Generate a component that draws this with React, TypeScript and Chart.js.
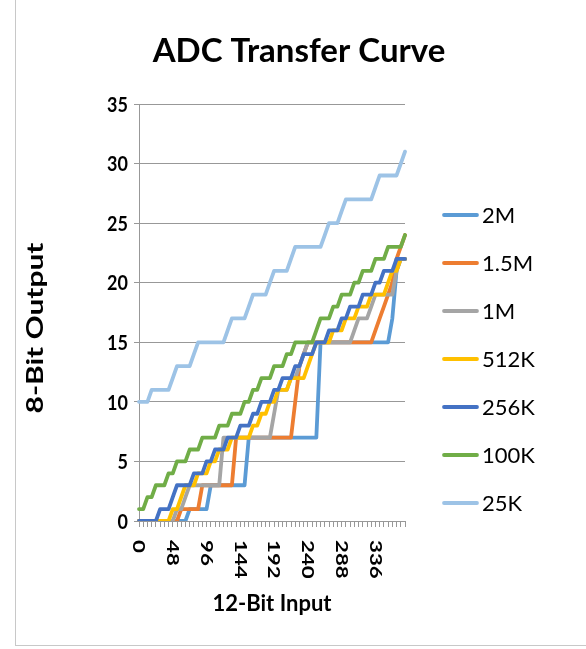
import React, { useEffect, useRef } from 'react';
import { Chart, registerables } from 'chart.js';

Chart.register(...registerables);

// 12-bit input codes sampled along the x axis
const inputCodes = [
  0, 6, 12, 18, 24, 30, 36, 42, 48, 54, 60, 66, 72, 78, 84, 90,
  96, 102, 108, 114, 120, 126, 132, 138, 144, 150, 156, 162, 168, 174, 180, 186,
  192, 198, 204, 210, 216, 222, 228, 234, 240, 246, 252, 258, 264, 270, 276, 282,
  288, 294, 300, 306, 312, 318, 324, 330, 336, 342, 348, 354, 360, 366, 372, 378,
];

// input codes that carry a tick label
const xTickLabels = ['0', '48', '96', '144', '192', '240', '288', '336'];
// output codes marked on the value axis
const yTickValues = [0, 5, 10, 15, 20, 25, 30, 35];

// 8-bit output per sample rate
const out2M = [
  0, 0, 0, 0, 0, 0, 0, 0, 0, 0, 0, 0, 1, 1, 1, 1,
  1, 3, 3, 3, 3, 3, 3, 3, 3, 3, 7, 7, 7, 7, 7, 7,
  7, 7, 7, 7, 7, 7, 7, 7, 7, 7, 7, 15, 15, 15, 15, 15,
  15, 15, 15, 15, 15, 15, 15, 15, 15, 15, 15, 15, 17, 21, 22, 22,
];
const out1_5M = [
  0, 0, 0, 0, 0, 0, 0, 0, 0, 0, 1, 1, 1, 1, 1, 3,
  3, 3, 3, 3, 3, 3, 3, 7, 7, 7, 7, 7, 7, 7, 7, 7,
  7, 7, 7, 7, 7, 10, 13, 14, 15, 15, 15, 15, 15, 15, 15, 15,
  15, 15, 15, 15, 15, 15, 15, 15, 16, 17, 18, 19, 20, 22, 23, 24,
];
const out1M = [
  0, 0, 0, 0, 0, 0, 0, 0, 0, 1, 1, 2, 3, 3, 3, 3,
  3, 3, 3, 3, 7, 7, 7, 7, 7, 7, 7, 7, 7, 7, 7, 7,
  9, 11, 11, 11, 12, 12, 13, 14, 15, 15, 15, 15, 15, 15, 15, 15,
  15, 15, 15, 16, 17, 17, 17, 18, 19, 19, 19, 19, 19, 21, 22, 22,
];
const out512K = [
  0, 0, 0, 0, 0, 0, 0, 0, 1, 1, 2, 3, 3, 3, 4, 4,
  4, 5, 5, 6, 6, 6, 7, 7, 7, 7, 7, 8, 8, 9, 9, 10,
  10, 11, 11, 11, 12, 12, 12, 12, 13, 14, 15, 15, 15, 15, 16, 16,
  16, 17, 17, 17, 18, 18, 18, 19, 19, 19, 19, 20, 21, 21, 22, 22,
];
const out256K = [
  0, 0, 0, 0, 0, 1, 1, 1, 2, 3, 3, 3, 3, 4, 4, 4,
  5, 5, 6, 6, 6, 7, 7, 7, 8, 8, 8, 9, 9, 10, 10, 10,
  11, 11, 12, 12, 12, 13, 13, 14, 14, 14, 15, 15, 15, 16, 16, 16,
  17, 17, 18, 18, 18, 19, 19, 19, 20, 20, 21, 21, 21, 22, 22, 22,
];
const out100K = [
  1, 1, 2, 2, 3, 3, 3, 4, 4, 5, 5, 5, 6, 6, 6, 7,
  7, 7, 7, 8, 8, 8, 9, 9, 9, 10, 10, 11, 11, 12, 12, 12,
  13, 13, 13, 14, 14, 15, 15, 15, 15, 15, 16, 17, 17, 17, 18, 18,
  19, 19, 19, 20, 20, 21, 21, 21, 22, 22, 22, 23, 23, 23, 23, 24,
];
const out25K = [
  10, 10, 10, 11, 11, 11, 11, 11, 12, 13, 13, 13, 13, 14, 15, 15,
  15, 15, 15, 15, 15, 16, 17, 17, 17, 17, 18, 19, 19, 19, 19, 20,
  21, 21, 21, 21, 22, 23, 23, 23, 23, 23, 23, 23, 24, 25, 25, 25,
  26, 27, 27, 27, 27, 27, 27, 27, 28, 29, 29, 29, 29, 29, 30, 31,
];

const seriesNames = ['2M', '1.5M', '1M', '512K', '256K', '100K', '25K'];
const seriesValues = [out2M, out1_5M, out1M, out512K, out256K, out100K, out25K];
const seriesColors = ['#5B9BD5', '#ED7D31', '#A5A5A5', '#FFC000', '#4472C4', '#70AD47', '#9DC3E6'];

const chartTitle = 'ADC Transfer Curve';
const xTitle = '12-Bit Input';
const yTitle = '8-Bit Output';

const FAMILY = 'Lato, "Open Sans", sans-serif';
const GRID = '#989898';
const LINE_W = 3.8;

// titles, axis labels and the side legend
const decorations = {
  id: 'decorations',
  afterDraw(chart: any) {
    const { ctx, chartArea } = chart;
    const xs = chart.scales.x;
    const ys = chart.scales.y;
    ctx.save();
    ctx.fillStyle = '#000';

    // chart title
    ctx.font = `bold 33px ${FAMILY}`;
    ctx.textAlign = 'center';
    ctx.textBaseline = 'alphabetic';
    ctx.fillText(chartTitle, 299, 62);

    // x axis title
    ctx.font = `bold 22px ${FAMILY}`;
    ctx.fillText(xTitle, (chartArea.left + chartArea.right) / 2, 611);

    // y axis title, reading upwards
    ctx.save();
    ctx.translate(36, 328);
    ctx.rotate(-Math.PI / 2);
    ctx.scale(1.36, 1);
    ctx.textAlign = 'center';
    ctx.textBaseline = 'middle';
    ctx.fillText(yTitle, 0, 0);
    ctx.restore();

    // value axis labels
    ctx.font = `bold 18px ${FAMILY}`;
    ctx.textAlign = 'right';
    ctx.textBaseline = 'middle';
    yTickValues.forEach((v) => {
      ctx.save();
      ctx.translate(chartArea.left - 11, ys.getPixelForValue(v) + 1);
      ctx.scale(1, 1.15);
      ctx.fillText(String(v), 0, 0);
      ctx.restore();
    });

    // category labels, reading downwards
    ctx.font = `bold 17.5px ${FAMILY}`;
    ctx.textAlign = 'left';
    ctx.textBaseline = 'middle';
    inputCodes.forEach((code, i) => {
      const label = String(code);
      if (!xTickLabels.includes(label)) return;
      ctx.save();
      ctx.translate(xs.getPixelForValue(i), chartArea.bottom + 19);
      ctx.rotate(Math.PI / 2);
      ctx.scale(1.27, 1);
      ctx.fillText(label, 0, 0);
      ctx.restore();
    });

    // legend
    ctx.font = `22px ${FAMILY}`;
    ctx.textAlign = 'left';
    ctx.lineCap = 'round';
    seriesNames.forEach((name, i) => {
      const y = 215 + i * 48;
      ctx.strokeStyle = seriesColors[i];
      ctx.lineWidth = LINE_W;
      ctx.beginPath();
      ctx.moveTo(444, y);
      ctx.lineTo(477, y);
      ctx.stroke();
      ctx.fillText(name, 482, y + 1);
    });
    ctx.restore();
  },
};

export default function App() {
  const canvasRef = useRef<HTMLCanvasElement>(null);

  useEffect(() => {
    const canvas = canvasRef.current;
    if (!canvas) return;
    const chart = new Chart(canvas, {
      type: 'line',
      data: {
        labels: inputCodes.map(String),
        datasets: seriesNames.map((name, i) => ({
          label: name,
          data: seriesValues[i],
          borderColor: seriesColors[i],
          backgroundColor: seriesColors[i],
          borderWidth: LINE_W,
          borderJoinStyle: 'round' as const,
          borderCapStyle: 'round' as const,
          pointRadius: 0,
          tension: 0,
          fill: false,
          // later series are painted on top
          order: seriesNames.length - i,
        })),
      },
      options: {
        animation: false,
        responsive: false,
        layout: { padding: { left: 0, top: 104, right: 181, bottom: 0 } },
        plugins: {
          legend: { display: false },
          title: { display: false },
          tooltip: { enabled: false },
        },
        scales: {
          x: {
            type: 'category',
            offset: false,
            grid: { drawOnChartArea: false, drawTicks: true, tickLength: 6, color: GRID, lineWidth: 1 },
            border: { color: GRID, width: 1 },
            ticks: { display: false },
            afterFit: (s: any) => {
              s.height = 128;
              s.paddingLeft = 0;
              s.paddingRight = 0;
            },
          },
          y: {
            min: 0,
            max: 35,
            ticks: { stepSize: 5, display: false },
            grid: { color: GRID, lineWidth: 1, drawTicks: true, tickLength: 5 },
            border: { color: GRID, width: 1 },
            afterFit: (s: any) => {
              s.width = 139;
              s.paddingTop = 0;
              s.paddingBottom = 0;
            },
          },
        },
      },
      plugins: [decorations],
    });
    return () => chart.destroy();
  }, []);

  return (
    <div style={{ position: 'absolute', left: 0, top: 0, width: 586, height: 649, overflow: 'hidden', background: '#fff' }}>
      <div
        style={{
          position: 'absolute',
          left: 15,
          top: -2,
          width: 600,
          height: 648,
          border: '1px solid #c8c8c8',
          boxSizing: 'border-box',
        }}
      />
      <canvas ref={canvasRef} width={586} height={649} style={{ position: 'absolute', left: 0, top: 0 }} />
    </div>
  );
}
